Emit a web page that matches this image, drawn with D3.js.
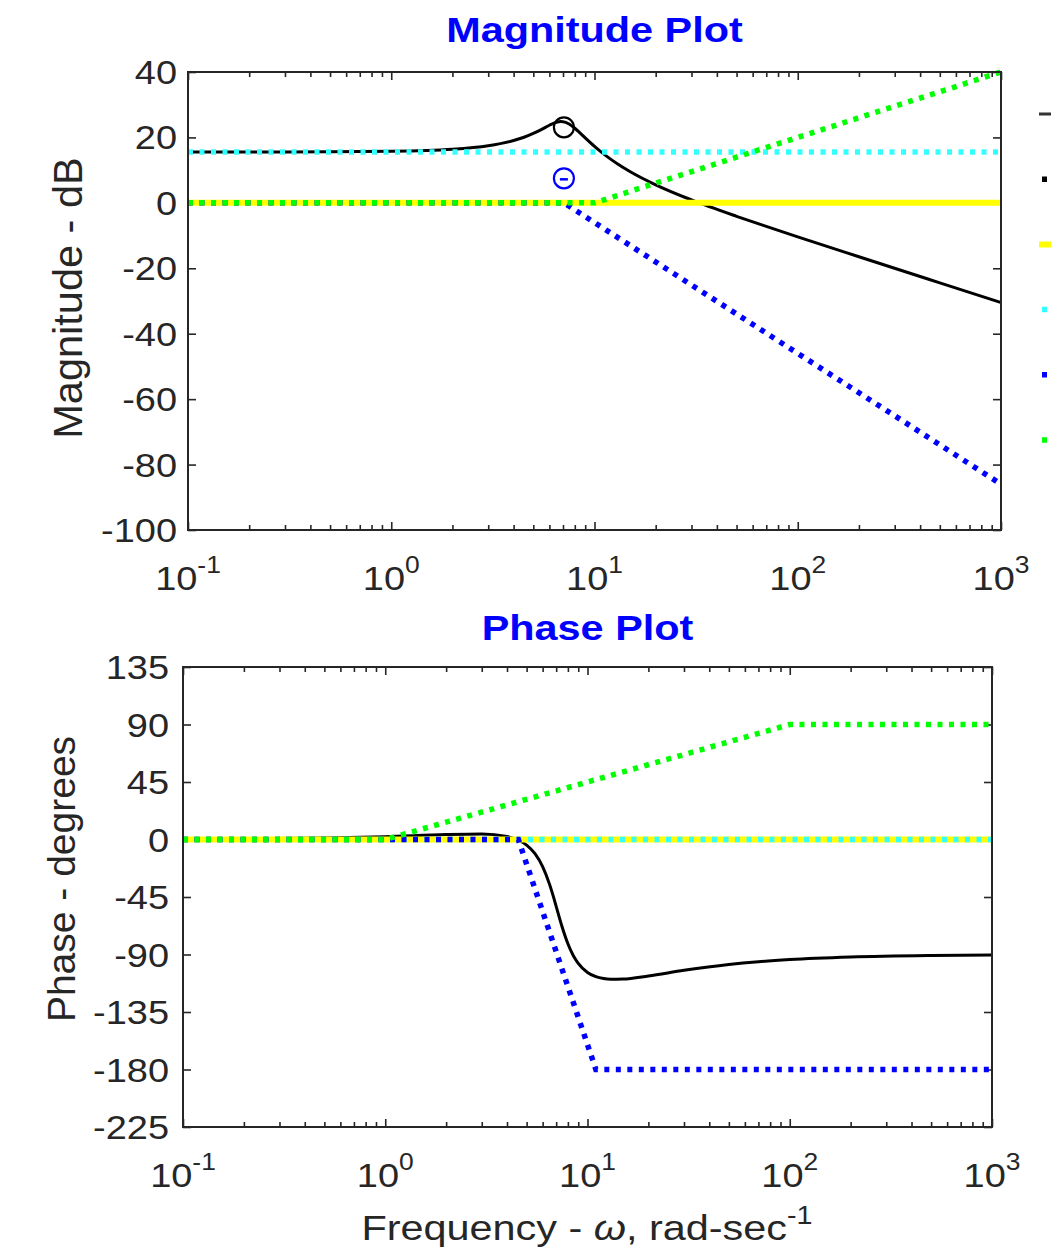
<!DOCTYPE html>
<html>
<head>
<meta charset="utf-8">
<script src="https://cdn.jsdelivr.net/npm/d3@7"></script>
<style>
  body { margin: 0; background: #ffffff; }
  svg { display: block; }
  text { font-family: "Liberation Sans", Arial, Helvetica, sans-serif; fill: #262626; }
</style>
</head>
<body>
<svg id="chart" width="1051" height="1254"></svg>
<script>
// ---- Frequency response of the full system ----
const omega = [0.1, 0.2, 0.5, 1, 2, 3, 4, 4.5, 5, 5.5, 6, 6.5, 6.8, 7, 7.5, 8, 8.5, 9, 10, 11, 12, 13, 15, 20, 30, 50, 70, 100, 200, 500, 1000];
const magnitudeDb = [15.56, 15.57, 15.61, 15.76, 16.38, 17.45, 19.05, 20.06, 21.22, 22.48, 23.72, 24.63, 24.85, 24.82, 24.11, 22.81, 21.31, 19.84, 17.24, 15.11, 13.36, 11.88, 9.52, 5.52, 0.90, -4.11, -7.19, -10.38, -16.46, -24.44, -30.46];
const phaseDeg = [0.23, 0.46, 1.14, 2.21, 3.88, 4.32, 2.36, -0.18, -4.39, -11.07, -21.17, -35.30, -45.34, -52.28, -68.65, -81.60, -90.74, -96.96, -104.04, -107.34, -108.85, -109.42, -109.27, -106.84, -102.39, -97.81, -95.65, -93.98, -92.00, -90.80, -90.40];

// ---- Asymptotic terms, as [omega, value] breakpoints ----
const unityMag    = [[0.1, 0], [1000, 0]];
const unityPhase  = [[0.1, 0], [1000, 0]];
const gainMag     = [[0.1, 15.56], [1000, 15.56]];
const gainPhase   = [[0.1, 0], [1000, 0]];
const polePairMag   = [[0.1, 0], [7.07, 0], [1000, -86.0]];
const polePairPhase = [[0.1, 0], [4.55, 0], [11.0, -180], [1000, -180]];
const zeroMag     = [[0.1, 0], [10, 0], [1000, 40]];
const zeroPhase   = [[0.1, 0], [1, 0], [100, 90], [1000, 90]];

// Resonance peak markers: [omega, dB]
const peakTotal = [7.07, 23.1];
const peakPair  = [7.07, 7.5];

// ---- Tick values ----
const decadeExps = [-1, 0, 1, 2, 3];
const magTicks = [-100, -80, -60, -40, -20, 0, 20, 40];
const phaseTicks = [-225, -180, -135, -90, -45, 0, 45, 90, 135];
const minorTicks = [];
for (let e = -1; e < 3; e++) for (let k = 2; k <= 9; k++) minorTicks.push(k * Math.pow(10, e));

const COLORS = { total: "#000000", unity: "#ffff00", gain: "#33ffff", pair: "#0000ff", zero: "#00ff00" };
const AXIS = "#262626";
const SX = 1.15;                       // horizontal text stretch
const DOTS = "5 6.5";

const svg = d3.select("#chart");

function stretchedText(g, x, y, anchor, size, weight) {
  return g.append("text")
    .attr("transform", `translate(${x},${y}) scale(${SX},1)`)
    .attr("text-anchor", anchor)
    .style("font-size", size + "px")
    .style("font-weight", weight || "normal");
}

function panel(cfg) {
  const g = svg.append("g");
  const x = d3.scaleLog().domain([0.1, 1000]).range([cfg.left, cfg.right]);
  const y = d3.scaleLinear().domain(cfg.domain).range([cfg.bottom, cfg.top]);
  const id = "clip" + cfg.name;

  g.append("clipPath").attr("id", id).append("rect")
    .attr("x", cfg.left).attr("y", cfg.top - 4)
    .attr("width", cfg.right - cfg.left).attr("height", cfg.bottom - cfg.top + 8);

  // ticks (inside, on all four sides)
  const tickG = (sel, axis, tx, ty) => sel.append("g")
    .attr("transform", `translate(${tx},${ty})`)
    .attr("color", AXIS)
    .call(axis)
    .call(s => s.select(".domain").remove())
    .call(s => s.selectAll("line").attr("stroke-width", 1.6))
    .call(s => s.selectAll("text").remove());

  tickG(g, d3.axisLeft(y).tickValues(cfg.ticks).tickSize(-8), cfg.left, 0);
  tickG(g, d3.axisRight(y).tickValues(cfg.ticks).tickSize(-8), cfg.right, 0);
  const decades = decadeExps.map(e => Math.pow(10, e));
  tickG(g, d3.axisBottom(x).tickValues(decades).tickSize(-8), 0, cfg.bottom);
  tickG(g, d3.axisTop(x).tickValues(decades).tickSize(-8), 0, cfg.top);
  tickG(g, d3.axisBottom(x).tickValues(minorTicks).tickSize(-5), 0, cfg.bottom);
  tickG(g, d3.axisTop(x).tickValues(minorTicks).tickSize(-5), 0, cfg.top);

  // y tick labels
  cfg.ticks.forEach(v => {
    stretchedText(g, cfg.left - cfg.yPad, y(v) + 12, "end", 33).text(v);
  });
  // x tick labels (powers of ten)
  decadeExps.forEach(e => {
    const t = stretchedText(g, x(Math.pow(10, e)), cfg.bottom + 60, "middle", 33);
    t.append("tspan").text("10");
    t.append("tspan").attr("dy", -17).style("font-size", "23px").text(e);
  });

  // title
  stretchedText(g, (cfg.left + cfg.right) / 2, cfg.titleY, "middle", 36, "bold")
    .style("fill", "#0000ff").text(cfg.title);

  // y label
  g.append("text")
    .attr("transform", `translate(${cfg.yLabelX},${cfg.yLabelY}) rotate(-90)`)
    .attr("text-anchor", "middle")
    .style("font-size", cfg.yLabelSize + "px")
    .text(cfg.yLabel);

  // series
  const plot = g.append("g").attr("clip-path", `url(#${id})`);
  const line = d3.line().x(d => x(d[0])).y(d => y(d[1]));
  const smooth = d3.line().x(d => x(d[0])).y(d => y(d[1])).curve(d3.curveMonotoneX);

  const drawPts = (pts, color, width, dash) => plot.append("path")
    .attr("d", line(pts)).attr("fill", "none")
    .attr("stroke", color).attr("stroke-width", width)
    .attr("stroke-dasharray", dash || null);

  plot.append("path")
    .attr("d", smooth(omega.map((w, i) => [w, cfg.values[i]])))
    .attr("fill", "none").attr("stroke", COLORS.total).attr("stroke-width", 3);
  drawPts(cfg.unity, COLORS.unity, 6);
  drawPts(cfg.gain, COLORS.gain, 5.5, DOTS);
  drawPts(cfg.pair, COLORS.pair, 5.5, DOTS);
  drawPts(cfg.zero, COLORS.zero, 5.5, DOTS);

  // frame
  g.append("rect")
    .attr("x", cfg.left).attr("y", cfg.top)
    .attr("width", cfg.right - cfg.left).attr("height", cfg.bottom - cfg.top)
    .attr("fill", "none").attr("stroke", AXIS).attr("stroke-width", 2);

  return { g, x, y };
}

const mag = panel({
  name: "Mag", left: 188, right: 1001, top: 72, bottom: 530,
  domain: [-100, 40], ticks: magTicks, yPad: 11,
  title: "Magnitude Plot", titleY: 42,
  yLabel: "Magnitude - dB", yLabelX: 82, yLabelY: 298, yLabelSize: 41.5,
  values: magnitudeDb, unity: unityMag, gain: gainMag, pair: polePairMag, zero: zeroMag
});

const ph = panel({
  name: "Phase", left: 183, right: 992, top: 667, bottom: 1127,
  domain: [-225, 135], ticks: phaseTicks, yPad: 14,
  title: "Phase Plot", titleY: 640,
  yLabel: "Phase - degrees", yLabelX: 75, yLabelY: 879, yLabelSize: 39,
  values: phaseDeg, unity: unityPhase, gain: gainPhase, pair: polePairPhase, zero: zeroPhase
});

// resonance markers on the magnitude plot
mag.g.append("circle")
  .attr("cx", mag.x(peakTotal[0])).attr("cy", mag.y(peakTotal[1])).attr("r", 10)
  .attr("fill", "none").attr("stroke", COLORS.total).attr("stroke-width", 2.2);
mag.g.append("circle")
  .attr("cx", mag.x(peakPair[0])).attr("cy", mag.y(peakPair[1])).attr("r", 10)
  .attr("fill", "none").attr("stroke", COLORS.pair).attr("stroke-width", 2.2);
mag.g.append("line")
  .attr("x1", mag.x(peakPair[0]) - 4).attr("x2", mag.x(peakPair[0]) + 4)
  .attr("y1", mag.y(peakPair[1]) + 1).attr("y2", mag.y(peakPair[1]) + 1)
  .attr("stroke", COLORS.pair).attr("stroke-width", 2.5);

// x label
const xl = stretchedText(svg, 587, 1240, "middle", 36);
xl.append("tspan").text("Frequency - ");
xl.append("tspan").style("font-style", "italic").text("ω");
xl.append("tspan").text(", rad-sec");
xl.append("tspan").attr("dy", -16).style("font-size", "25px").text("-1");

// legend line samples at the right edge
const legendItems = [
  { color: "#333333", width: 3, dash: null },
  { color: "#000000", width: 5.5, dash: DOTS },
  { color: COLORS.unity, width: 6, dash: null },
  { color: COLORS.gain, width: 5.5, dash: DOTS },
  { color: COLORS.pair, width: 5.5, dash: DOTS },
  { color: COLORS.zero, width: 5.5, dash: DOTS }
];
const legend = svg.append("g").attr("transform", "translate(1039,114)");
legend.selectAll("line").data(legendItems).join("line")
  .attr("x1", d => d.dash ? 3 : 0).attr("x2", 40)
  .attr("y1", (d, i) => i * 65.2).attr("y2", (d, i) => i * 65.2)
  .attr("stroke", d => d.color).attr("stroke-width", d => d.width)
  .attr("stroke-dasharray", d => d.dash);
</script>
</body>
</html>
